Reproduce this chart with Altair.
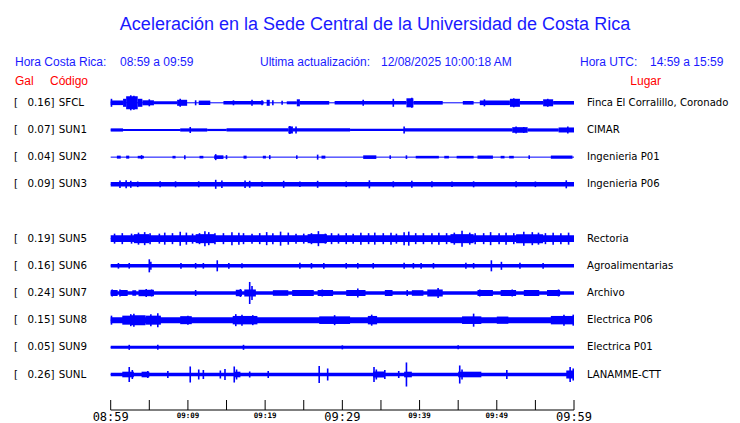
import altair as alt
import pandas as pd

# ---------------- data ----------------
CODES = ["SFCL", "SUN1", "SUN2", "SUN3", "SUN5", "SUN6", "SUN7", "SUN8", "SUN9", "SUNL"]
GAL = ["0.16]", "0.07]", "0.04]", "0.09]", "0.19]", "0.16]", "0.24]", "0.15]", "0.05]", "0.26]"]
PLACES = ["Finca El Corralillo, Coronado", "CIMAR", "Ingenieria P01", "Ingenieria P06",
          "Rectoria", "Agroalimentarias", "Archivo", "Electrica P06", "Electrica P01", "LANAMME-CTT"]
ROWS = [0, 1, 2, 3, 5, 6, 7, 8, 9, 10]

TICK_MIN = [0, 5, 10, 15, 20, 25, 30, 35, 40, 45, 50, 55, 60]
BIG_LABEL_MIN = [0, 30, 60]
BIG_LABELS = ["08:59", "09:29", "09:59"]
SMALL_LABEL_MIN = [10, 20, 40, 50]
SMALL_LABELS = ["09:09", "09:19", "09:39", "09:49"]

# envelope segments (start min, end min, half amplitude) and spikes (min, half amplitude)
SFCL_BANDS = [(0, 1.6, 2.3), (1.6, 2.0, 4), (2.0, 3.5, 6.5), (3.5, 4.1, 4), (4.1, 5.6, 2.5),
              (5.6, 8.6, 1.5), (8.6, 9.9, 3), (11.4, 12.9, 2.2), (14.6, 19.8, 1.8), (20.2, 20.6, 3),
              (22.8, 24.1, 1.5), (24.1, 24.5, 3.5), (24.5, 28.3, 1.8), (29.0, 38.3, 1.8), (38.3, 39.2, 4.5),
              (39.2, 43.0, 1.8), (45.6, 47.0, 1.8), (47.8, 51.7, 2.3), (51.7, 53.0, 4), (53.0, 56.0, 1.8),
              (56.0, 57.3, 3.5), (57.3, 60, 1.8)]
SFCL_SPIKES = [(0.1, 4), (2.6, 7.5), (3.0, 7), (5.0, 3.5), (9.0, 4), (11.0, 2.5), (15.9, 2.5),
               (18.3, 3), (19.6, 2.5), (21.0, 2.5), (22.2, 2), (32.7, 3), (36.6, 4), (39.0, 5),
               (48.4, 3.5), (52.2, 4.5), (56.6, 4)]
SUN1_BANDS = [(0, 1.6, 1.6), (1.6, 9, 1.0), (9, 12.5, 1.6), (12.5, 15, 1.1), (15, 23, 1.6),
              (23, 23.6, 3.5), (23.6, 31, 1.6), (31, 38, 1.1), (38, 52, 1.6), (52, 54, 2.8),
              (54, 58, 1.6), (58, 60, 2.5)]
SUN1_SPIKES = [(10.3, 3), (23.2, 4), (24.0, 3.5), (38.0, 3.5), (52.5, 3.5), (53.5, 3), (59.2, 3.5)]
SUN2_BANDS = [(0.8, 1.3, 1.5), (2.0, 2.4, 1.5), (3.5, 4.3, 1.3), (8.0, 8.4, 1.3), (11.5, 12.0, 1.3),
              (13.4, 14.6, 1.8), (17.2, 17.6, 1.5), (19.7, 20.1, 1.3), (27.3, 27.8, 1.5),
              (32.7, 34.4, 1.8), (39.5, 42.5, 1.3), (43.2, 43.8, 1.3), (44.8, 47.0, 1.3),
              (47.5, 49.5, 1.6), (50.5, 51.0, 1.3), (51.6, 52.2, 1.3), (57.0, 59.8, 1.6)]
SUN2_SPIKES = [(13.6, 3), (26.8, 2.5), (4.0, 2), (9.6, 2), (15.0, 2), (20.6, 2), (24.1, 1.8),
               (36.2, 1.8), (38.3, 1.8), (54.2, 1.8)]
SUN3_BANDS = [(0, 60, 2.3)]
SUN3_SPIKES = [(1.2, 3.8), (2.0, 4), (2.6, 3.5), (6.4, 3), (8.4, 3), (11.4, 3), (13.6, 4.5),
               (14.4, 3.8), (17.4, 3.8), (18.0, 3.5), (19.6, 2.8), (22.4, 3.5), (26.8, 3.5),
               (33.5, 4), (36.6, 3), (39.0, 3.5), (41.6, 3), (47.0, 3), (52.5, 3), (59.0, 4),
               (3.5, 2.8), (24.5, 2.8), (30.5, 2.8), (44.2, 2.8), (55.0, 2.8)]
SUN5_BANDS = [(0, 60, 3.4), (3, 5, 4.5), (11, 13.5, 4.5), (25.5, 28, 4.5), (44, 47, 4.5), (52.5, 56, 4.5)]
SUN5_SPIKES = [(0.5, 5), (1.5, 5.5), (2.7, 5), (3.6, 6), (4.4, 6.5), (5.1, 5.5), (6.3, 5), (7.0, 6),
               (8.0, 5.5), (9.0, 7), (9.8, 6), (10.6, 5), (11.5, 5.5), (12.2, 7.5), (12.7, 6.5),
               (13.5, 5.5), (14.6, 5.5), (15.7, 6.5), (16.6, 6), (17.2, 5.5), (18.3, 5), (19.3, 5.5),
               (20.2, 6.5), (21.0, 5.5), (22.0, 7), (23.0, 6), (24.0, 5), (25.0, 5), (26.0, 5.5),
               (26.9, 7.5), (27.8, 5), (28.6, 5.5), (29.5, 5), (30.5, 5.5), (31.4, 5), (32.4, 6),
               (33.4, 5.5), (34.2, 6), (35.3, 5.5), (36.3, 6), (37.0, 5), (38.0, 6.5), (38.6, 7),
               (39.5, 5.5), (40.5, 5.5), (41.6, 5.5), (42.5, 6), (43.5, 5.5), (44.5, 6), (45.5, 8),
               (46.5, 6), (47.2, 5.5), (48.3, 5.5), (49.2, 6.5), (50.3, 5.5), (51.2, 6), (52.2, 5.5),
               (53.5, 7), (54.6, 6.5), (55.4, 6), (56.3, 5.5), (57.3, 6), (58.3, 5.5), (59.3, 6)]
SUN6_BANDS = [(0, 60, 1.8)]
SUN6_SPIKES = [(5.0, 6.5), (5.2, 4), (13.8, 5.5), (1.0, 2.8), (2.4, 2.8), (9.1, 2.8), (11.0, 2.8),
               (12.0, 2.8), (15.3, 2.8), (17.0, 2.5), (24.5, 3), (26.0, 2.8), (27.6, 2.8), (30.5, 2.8),
               (32.0, 2.8), (34.0, 2.8), (38.0, 3), (39.2, 2.8), (40.2, 2.8), (41.8, 2.8), (46.0, 3),
               (47.0, 2.8), (49.3, 5.5), (50.6, 4), (53.0, 3), (56.0, 2.8)]
SUN7_BANDS = [(0, 60, 1.8), (0, 0.9, 3), (1.2, 2.2, 3), (2.8, 3.3, 2.8), (3.6, 5.6, 3.2),
              (16.2, 17.0, 3.2), (17.3, 18.8, 3.5), (21.0, 23.0, 2.8), (23.5, 26.3, 3), (26.8, 28.8, 3),
              (30.5, 33.0, 3), (35.5, 36.5, 3), (39.0, 40.5, 2.8), (41.0, 43.0, 3.5), (47.5, 49.5, 3),
              (50.5, 52.5, 3), (53.5, 55.5, 3), (56.5, 58.2, 3)]
SUN7_SPIKES = [(0.2, 3.5), (1.2, 3.5), (4.6, 4), (5.3, 3.5), (11.0, 3), (16.8, 4), (18.0, 11),
               (18.3, 7), (27.4, 3.5), (30.8, 3), (32.0, 4.5), (38.4, 3), (42.4, 5), (47.8, 3.5),
               (52.0, 3.5), (58.0, 3.5)]
SUN8_BANDS = [(0, 60, 3), (1.5, 2.5, 4.5), (2.5, 4.5, 5), (4.5, 6.5, 4.5), (9.0, 10.5, 4),
              (15.8, 19.0, 4.2), (27.0, 31.0, 3.8), (33.3, 34.5, 4.2), (45.5, 48.0, 3.8), (50.0, 51.5, 3.6),
              (57.0, 60, 4.2)]
SUN8_SPIKES = [(0.1, 4.5), (2.6, 6), (3.0, 6.5), (5.2, 6), (6.1, 7), (10.0, 4.5), (16.2, 6), (17.0, 5.5),
               (18.4, 5), (29.0, 5), (33.8, 5.5), (47.0, 6.5), (58.7, 5.5), (59.9, 5.5)]
SUN9_BANDS = [(0, 60, 1.5)]
SUN9_SPIKES = [(2.4, 2.5), (6.1, 2.5), (17.2, 2.5), (30.0, 2), (45.0, 2)]
SUNL_BANDS = [(0, 60, 1.7), (1.5, 3.0, 2.8), (4.0, 5.0, 2.8), (16.0, 16.8, 2.8), (34.0, 35.5, 3),
              (38.0, 39.0, 2.8), (45.0, 48.0, 2.8), (59.0, 60, 4)]
SUNL_SPIKES = [(2.4, 7.5), (2.8, 4.5), (4.8, 3.5), (7.4, 3.5), (10.3, 8), (11.4, 5), (12.0, 4.5),
               (14.2, 4), (14.8, 5.5), (16.0, 8), (16.3, 5), (18.0, 3), (20.4, 3.5), (27.0, 8.5),
               (28.1, 6), (34.1, 7.5), (34.4, 5), (35.5, 4.5), (37.3, 3.5), (38.3, 12), (45.2, 9),
               (45.5, 5), (51.3, 4.5), (59.5, 7.5), (59.9, 6)]

ALL_BANDS = [SFCL_BANDS, SUN1_BANDS, SUN2_BANDS, SUN3_BANDS, SUN5_BANDS,
             SUN6_BANDS, SUN7_BANDS, SUN8_BANDS, SUN9_BANDS, SUNL_BANDS]
ALL_SPIKES = [SFCL_SPIKES, SUN1_SPIKES, SUN2_SPIKES, SUN3_SPIKES, SUN5_SPIKES,
              SUN6_SPIKES, SUN7_SPIKES, SUN8_SPIKES, SUN9_SPIKES, SUNL_SPIKES]

AMP_PER_ROW = 27.1  # amplitude units per trace row

BLUE = "#0000ff"
HEAD_BLUE = "#1a1aff"
RED = "#ff0000"

# --------------- tables ---------------
stations = pd.DataFrame({"code": CODES, "gal": GAL, "place": PLACES, "row": ROWS,
                         "t0": [0] * len(CODES), "t1": [60] * len(CODES)})
band_rows, spike_rows = [], []
for r, bands, spikes in zip(ROWS, ALL_BANDS, ALL_SPIKES):
    for a, b, h in bands:
        band_rows.append({"t0": a, "t1": b, "lo": r - h / AMP_PER_ROW, "hi": r + h / AMP_PER_ROW})
    for t, h in spikes:
        spike_rows.append({"t": t, "lo": r - h / AMP_PER_ROW, "hi": r + h / AMP_PER_ROW})
bands_df = pd.DataFrame(band_rows)
spikes_df = pd.DataFrame(spike_rows)

xs = alt.Scale(domain=[0, 60], range=[102.7, 566])
ys = alt.Scale(domain=[0, 10], range=[94.8, 366.5])

base_lines = alt.Chart(stations).mark_rule(color=BLUE, strokeWidth=1).encode(
    x=alt.X("t0:Q", scale=xs, axis=None), x2="t1:Q",
    y=alt.Y("row:Q", scale=ys, axis=None))
band_layer = alt.Chart(bands_df).mark_rect(color=BLUE).encode(
    x=alt.X("t0:Q", scale=xs, axis=None), x2="t1:Q",
    y=alt.Y("lo:Q", scale=ys, axis=None), y2="hi:Q")
spike_layer = alt.Chart(spikes_df).mark_rule(color=BLUE, strokeWidth=1.6).encode(
    x=alt.X("t:Q", scale=xs, axis=None),
    y=alt.Y("lo:Q", scale=ys, axis=None), y2="hi:Q")

lab_font = "DejaVu Sans"
lab_size = 10.3
bracket = alt.Chart(stations).mark_text(text="[", align="left", baseline="middle",
                                        font=lab_font, fontSize=lab_size, color="black").encode(
    x=alt.value(6), y=alt.Y("row:Q", scale=ys, axis=None))
gal_txt = alt.Chart(stations).mark_text(align="right", baseline="middle",
                                        font=lab_font, fontSize=lab_size, color="black").encode(
    x=alt.value(46.5), y=alt.Y("row:Q", scale=ys, axis=None), text="gal:N")
code_txt = alt.Chart(stations).mark_text(align="left", baseline="middle",
                                         font=lab_font, fontSize=lab_size, color="black").encode(
    x=alt.value(50.7), y=alt.Y("row:Q", scale=ys, axis=None), text="code:N")
place_txt = alt.Chart(stations).mark_text(align="left", baseline="middle",
                                          font=lab_font, fontSize=10.1, color="black").encode(
    x=alt.value(579), y=alt.Y("row:Q", scale=ys, axis=None), text="place:N")

# time axis
ticks_df = pd.DataFrame({"t": TICK_MIN})
axis_line = alt.Chart(pd.DataFrame({"t0": [TICK_MIN[0]], "t1": [TICK_MIN[-1]]})).mark_rule(
    color="black", strokeWidth=1).encode(
    x=alt.X("t0:Q", scale=xs, axis=None), x2="t1:Q", y=alt.value(402))
tick_marks = alt.Chart(ticks_df).mark_rule(color="black", strokeWidth=1).encode(
    x=alt.X("t:Q", scale=xs, axis=None), y=alt.value(392), y2=alt.value(402))
big_lab = alt.Chart(pd.DataFrame({"t": BIG_LABEL_MIN, "lab": BIG_LABELS})).mark_text(
    font="DejaVu Sans Mono", fontSize=12, baseline="alphabetic", align="center", color="black").encode(
    x=alt.X("t:Q", scale=xs, axis=None), y=alt.value(412.5), text="lab:N")
small_lab = alt.Chart(pd.DataFrame({"t": SMALL_LABEL_MIN, "lab": SMALL_LABELS})).mark_text(
    font="DejaVu Sans Mono", fontSize=7.5, fontWeight="bold", baseline="alphabetic", align="center",
    color="black").encode(
    x=alt.X("t:Q", scale=xs, axis=None), y=alt.value(410), text="lab:N")


def label(txt, x, y, color, size, align="left", font="Liberation Sans"):
    return alt.Chart(pd.DataFrame({"s": [txt]})).mark_text(
        align=align, baseline="alphabetic", font=font, fontSize=size, color=color).encode(
        x=alt.value(x), y=alt.value(y), text="s:N")


headers = [
    label("Aceleración en la Sede Central de la Universidad de Costa Rica", 367, 22, HEAD_BLUE, 18, "center"),
    label("Hora Costa Rica:", 7, 57.5, HEAD_BLUE, 12),
    label("08:59 a 09:59", 112, 57.5, HEAD_BLUE, 12),
    label("Ultima actualización:", 252, 57.5, HEAD_BLUE, 12),
    label("12/08/2025 10:00:18 AM", 373, 57.5, HEAD_BLUE, 12),
    label("Hora UTC:", 572, 57.5, HEAD_BLUE, 12),
    label("14:59 a 15:59", 642, 57.5, HEAD_BLUE, 12),
    label("Gal", 7, 76.5, RED, 12),
    label("Código", 42, 76.5, RED, 12),
    label("Lugar", 653, 76.5, RED, 12, "right"),
]

chart = alt.layer(
    base_lines, band_layer, spike_layer, bracket, gal_txt, code_txt, place_txt,
    axis_line, tick_marks, big_lab, small_lab, *headers
).properties(
    width=724, height=414, padding=0, autosize=alt.AutoSizeParams(type="none")
).configure_view(stroke=None)

chart.save("out.html", embed_options={"renderer": "svg", "actions": False})
